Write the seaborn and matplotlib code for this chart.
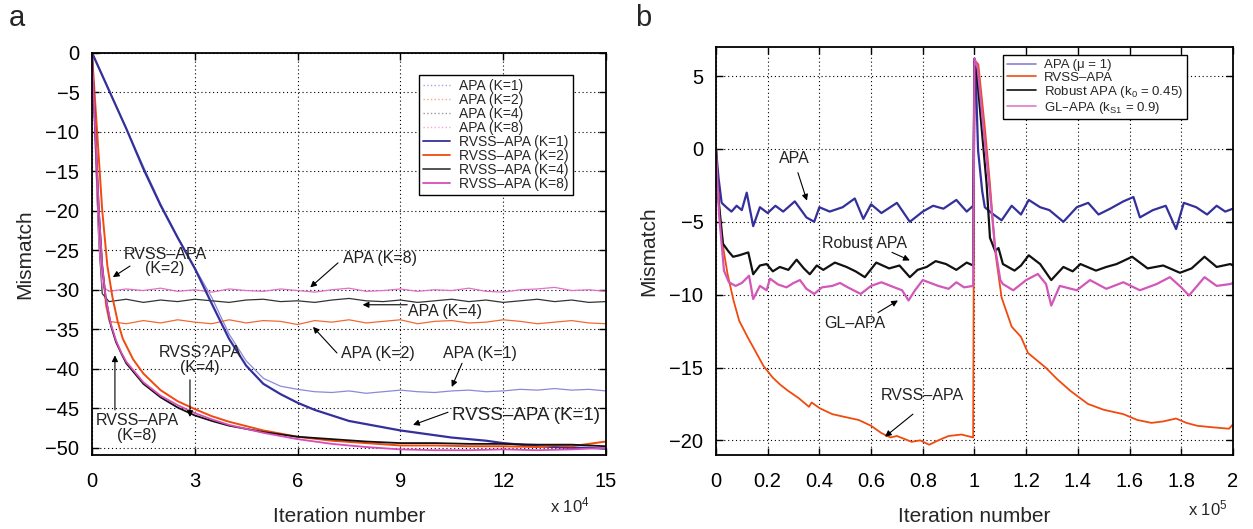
import numpy as np
import pandas as pd
import matplotlib
matplotlib.use("Agg")
import matplotlib.pyplot as plt
import seaborn as sns
from matplotlib.lines import Line2D
from matplotlib.ticker import FuncFormatter

# =================== Data, panel a (x in units of 1e4 iterations) ===================
flat_x = [0.5, 1.0, 1.5, 2.0, 2.5, 3.0, 3.5, 4.0, 4.5, 5.0, 5.5, 6.0, 6.5, 7.0, 7.5,
          8.0, 8.5, 9.0, 9.5, 10.0, 10.5, 11.0, 11.5, 12.0, 12.5, 13.0, 13.5, 14.0, 14.5, 15.0]

apa_k8_x = [0, 0.1, 0.2, 0.3] + flat_x
apa_k8_y = [0, -12, -24, -29.6,
            -30.2, -29.9, -30.1, -29.8, -30.2, -30.0, -30.3, -29.9, -30.1, -30.2,
            -29.9, -30.1, -30.3, -30.0, -29.8, -30.2, -30.1, -29.9, -30.2, -30.0,
            -30.1, -29.8, -30.2, -30.3, -30.0, -29.9, -29.7, -30.1, -30.0, -30.2]

apa_k4_x = [0, 0.1, 0.2, 0.3] + flat_x
apa_k4_y = [0, -12, -24, -30.5,
            -31.5, -31.2, -31.6, -31.3, -31.5, -31.2, -31.4, -31.6, -31.3, -31.2,
            -31.5, -31.4, -31.6, -31.3, -31.1, -31.4, -31.5, -31.3, -31.6, -31.4,
            -31.2, -31.5, -31.3, -31.6, -31.4, -31.2, -31.5, -31.3, -31.6, -31.5]

apa_k2_x = [0, 0.1, 0.2, 0.3, 0.4] + flat_x
apa_k2_y = [0, -10, -20, -27, -32,
            -34.0, -34.3, -33.9, -34.2, -33.8, -34.1, -34.3, -33.8, -34.2, -33.9,
            -34.0, -34.4, -33.9, -34.1, -33.8, -34.2, -34.0, -33.8, -34.3, -34.0,
            -33.9, -34.2, -34.1, -33.8, -34.0, -34.3, -34.1, -33.9, -34.2, -34.3]

apa_k1_x = [0, 0.5, 1, 1.5, 2, 2.5, 3, 3.5, 4, 4.5, 5, 5.5,
            6, 6.5, 7, 7.5, 8, 8.5, 9, 9.5, 10, 10.5, 11, 11.5, 12, 12.5, 13, 13.5, 14, 14.5, 15]
apa_k1_y = [0, -4.8, -9.6, -14.4, -19.1, -23.3, -27.2, -31.0, -35.6, -39.0, -41.2, -42.2,
            -42.6, -42.9, -43.0, -42.8, -43.1, -42.9, -42.7, -42.9, -43.0, -42.8, -42.7,
            -42.9, -42.8, -42.6, -42.7, -42.5, -42.7, -42.6, -42.8]

rvss_k1_x = [0, 0.5, 1, 1.5, 2, 2.5, 3, 3.5, 4, 4.5, 5, 5.5, 6, 6.5, 7, 7.5, 8,
             8.5, 9, 9.5, 10, 10.5, 11, 11.5, 12, 12.5, 13, 13.5, 14, 14.5, 15]
rvss_k1_y = [0, -4.8, -9.6, -14.7, -19.3, -23.4, -27.3, -31.8, -36.2, -39.6, -41.9, -43.2,
             -44.3, -45.2, -45.9, -46.6, -47.0, -47.4, -47.8, -48.1, -48.4, -48.7, -48.9,
             -49.1, -49.4, -49.6, -49.8, -49.9, -50.0, -50.0, -50.1]

rvss_k2_x = [0, 0.15, 0.3, 0.45, 0.6, 0.75, 0.9, 1.2, 1.5, 2, 2.5, 3, 3.5, 4, 5, 6, 7,
             8, 9, 10, 11, 12, 13, 13.5, 14, 14.5, 15]
rvss_k2_y = [0, -10, -20, -27, -31, -34, -36.2, -38.8, -40.6, -42.7, -44.1, -45.1, -46.0,
             -46.7, -47.8, -48.6, -49.1, -49.4, -49.7, -49.7, -49.8, -49.8, -49.9, -49.7,
             -49.8, -49.5, -49.2]

rvss_k48_x = [0, 0.1, 0.2, 0.3, 0.4, 0.55, 0.7, 0.85, 1.0, 1.5, 2, 2.5, 3, 3.5, 4, 5, 6,
              7, 8, 9, 10, 11, 12, 13, 14, 15]
rvss_k4_y = [0, -10, -20, -27, -31, -34.5, -36.6, -38.0, -39.3, -41.9, -43.6, -44.9, -45.9,
             -46.6, -47.2, -48.0, -48.6, -48.9, -49.2, -49.4, -49.4, -49.5, -49.5, -49.6,
             -49.6, -49.8]
rvss_k8_y = [0, -10, -20, -27, -31, -34.3, -36.4, -37.9, -39.1, -41.7, -43.4, -44.6, -45.6,
             -46.4, -47.1, -48.1, -48.9, -49.5, -49.9, -50.2, -50.3, -50.3, -50.2, -50.3,
             -50.2, -50.0]

legend_a = ["APA (K=1)", "APA (K=2)", "APA (K=4)", "APA (K=8)",
            "RVSS\u2013APA (K=1)", "RVSS\u2013APA (K=2)", "RVSS\u2013APA (K=4)", "RVSS\u2013APA (K=8)"]

# =================== Data, panel b (x in units of 1e5 iterations) ===================
b_apa_x = [0, 0.01, 0.022, 0.04, 0.06, 0.08, 0.1, 0.119, 0.144, 0.17,
           0.2, 0.23, 0.26, 0.305, 0.35, 0.38, 0.4, 0.44, 0.49, 0.537,
           0.57, 0.6, 0.64, 0.7, 0.75, 0.8, 0.84, 0.88, 0.93, 0.97, 0.995,
           1.0, 1.005, 1.014, 1.03, 1.04, 1.066, 1.105, 1.144, 1.18, 1.21,
           1.254, 1.29, 1.344, 1.396, 1.44, 1.48, 1.525, 1.576, 1.615, 1.64,
           1.69, 1.74, 1.78, 1.81, 1.858, 1.9, 1.937, 1.97, 2.0]
b_apa_y = [0, -2.0, -3.7, -4.0, -4.3, -3.9, -4.2, -3.0, -5.3, -4.0,
           -4.4, -3.9, -4.3, -3.6, -4.7, -5.0, -4.0, -4.3, -4.0, -3.4,
           -4.8, -3.8, -4.4, -3.7, -5.0, -4.3, -3.9, -4.1, -3.5, -4.3, -3.9,
           6.2, 5.0, -0.1, -2.9, -4.0, -4.4, -4.9, -3.9, -4.5, -3.5,
           -4.0, -4.2, -5.0, -4.0, -3.7, -4.5, -4.1, -3.6, -3.3, -4.7,
           -4.2, -3.9, -5.5, -3.7, -4.0, -4.5, -3.9, -4.3, -4.1]

b_rob_x = [0, 0.01, 0.027, 0.047, 0.066, 0.09, 0.125, 0.144, 0.17, 0.196,
           0.22, 0.247, 0.28, 0.312, 0.34, 0.363, 0.39, 0.415, 0.46, 0.505,
           0.54, 0.576, 0.62, 0.67, 0.71, 0.75, 0.78, 0.815, 0.85, 0.89,
           0.93, 0.97, 0.995,
           1.0, 1.01, 1.047, 1.06, 1.08, 1.093, 1.11, 1.155, 1.18, 1.21,
           1.254, 1.297, 1.344, 1.38, 1.41, 1.47, 1.51, 1.55, 1.61, 1.67,
           1.73, 1.795, 1.84, 1.89, 1.937, 1.99, 2.0]
b_rob_y = [0, -3.5, -6.5, -7.0, -7.4, -7.3, -7.1, -8.6, -8.0, -7.9,
           -8.4, -8.1, -8.3, -7.6, -8.2, -8.6, -8.0, -8.3, -7.8, -8.1,
           -8.4, -8.8, -7.8, -8.2, -8.0, -8.8, -8.3, -8.1, -7.7, -7.9,
           -8.3, -7.8, -8.0,
           6.0, 5.0, -2.4, -6.1, -7.0, -6.8, -7.9, -8.35, -8.0, -7.3,
           -7.9, -9.0, -8.1, -8.4, -7.9, -8.35, -8.1, -7.9, -7.4, -8.2,
           -8.0, -8.5, -8.2, -7.4, -8.1, -7.9, -8.0]

b_gl_x = [0, 0.012, 0.031, 0.05, 0.076, 0.1, 0.128, 0.144, 0.17, 0.196,
          0.209, 0.24, 0.273, 0.3, 0.325, 0.35, 0.38, 0.41, 0.45, 0.48,
          0.51, 0.56, 0.6, 0.64, 0.69, 0.72, 0.745, 0.77, 0.8, 0.86,
          0.9, 0.93, 0.96, 0.995,
          1.0, 1.012, 1.04, 1.06, 1.08, 1.10, 1.11, 1.15, 1.2, 1.245,
          1.277, 1.297, 1.33, 1.396, 1.447, 1.51, 1.576, 1.64, 1.705, 1.756,
          1.8, 1.83, 1.89, 1.937, 1.99, 2.0]
b_gl_y = [0, -4.5, -8.35, -9.15, -9.4, -9.2, -8.7, -10.3, -9.4, -9.7,
          -8.9, -9.3, -9.5, -9.2, -9.0, -9.6, -9.95, -9.5, -9.4, -9.2,
          -9.5, -9.95, -9.4, -9.15, -9.5, -9.7, -10.4, -9.7, -9.0, -9.4,
          -9.6, -9.15, -9.5, -9.4,
          6.2, 5.6, 0.5, -3.0, -6.8, -9.0, -9.27, -9.7, -9.0, -8.58,
          -9.27, -10.75, -9.4, -9.7, -9.0, -9.6, -9.15, -9.7, -9.27, -8.8,
          -9.5, -10.06, -8.8, -9.4, -9.27, -9.2]

b_rvss_x = [0, 0.015, 0.03, 0.045, 0.068, 0.09, 0.122, 0.15, 0.184, 0.22,
            0.25, 0.279, 0.32, 0.36, 0.37, 0.402, 0.45, 0.5, 0.552, 0.6,
            0.64, 0.675, 0.7, 0.757, 0.79, 0.825, 0.86, 0.9, 0.95, 0.995,
            1.0, 1.015, 1.04, 1.06, 1.08, 1.105, 1.144, 1.18, 1.207, 1.275,
            1.32, 1.371, 1.439, 1.5, 1.576, 1.63, 1.685, 1.73, 1.78, 1.82,
            1.862, 1.92, 1.985, 2.0]
b_rvss_y = [0, -4.7, -7.0, -8.6, -10.4, -11.8, -12.9, -13.8, -14.9, -15.7,
            -16.2, -16.6, -17.1, -17.7, -17.4, -17.8, -18.2, -18.4, -18.6, -19.0,
            -19.5, -19.8, -19.7, -20.1, -20.0, -20.3, -20.0, -19.7, -19.6, -19.8,
            6.1, 5.8, 1.5, -2.4, -7.0, -10.2, -12.2, -12.9, -14.0, -15.0,
            -15.8, -16.6, -17.5, -17.9, -18.2, -18.6, -18.8, -18.7, -18.5, -18.8,
            -19.0, -19.1, -19.2, -18.9]

legend_b = ["APA (\u03bc = 1)", "RVSS\u2013APA", "Robust APA (k$_0$ = 0.45)",
            "GL\u2013APA (k$_{S1}$ = 0.9)"]

# =================== Style ===================
sns.set_theme(style="ticks")
plt.rcParams["font.family"] = ["Liberation Sans", "DejaVu Sans"]
plt.rcParams["mathtext.default"] = "regular"

C_BLUE = "#33309c"
C_ORANGE = "#f04a0e"
C_BLACK = "#111111"
C_MAGENTA = "#d84cb8"


def line(ax, x, y, color, lw, ls="-"):
    sns.lineplot(x=x, y=y, ax=ax, color=color, linewidth=lw, linestyle=ls,
                 sort=False, estimator=None, legend=False)


def style_axes(ax):
    ax.grid(True, color="black", linestyle=(0, (1, 2.5)), linewidth=0.8)
    for s in ax.spines.values():
        s.set_color("black")
        s.set_linewidth(1.3)
    ax.tick_params(direction="in", top=True, right=True, length=5, width=1,
                   labelsize=14.5, colors="black")
    ax.tick_params(axis="x", pad=12)
    ax.tick_params(axis="y", pad=9)


def note(ax, text, pos, tail, head, size=11.5):
    ax.text(pos[0], pos[1], text, ha="center", va="center", fontsize=size,
            linespacing=0.95, color="#222222")
    ax.annotate("", xy=head, xytext=tail,
                arrowprops=dict(arrowstyle="-|>", color="black", lw=0.8,
                                mutation_scale=9, shrinkA=0, shrinkB=0))


fig = plt.figure(figsize=(12.53, 5.29), dpi=100)
ax_a = fig.add_axes([0.0734, 0.140, 0.4102, 0.7605])
ax_b = fig.add_axes([0.5714, 0.140, 0.4126, 0.7713])

# =================== Panel a ===================
line(ax_a, apa_k1_x, apa_k1_y, "#8c88dc", 0.9)
line(ax_a, apa_k2_x, apa_k2_y, "#f26a36", 0.9)
line(ax_a, apa_k4_x, apa_k4_y, "#333333", 0.9)
line(ax_a, apa_k8_x, apa_k8_y, "#e070c8", 0.9)
line(ax_a, rvss_k1_x, rvss_k1_y, C_BLUE, 1.6)
line(ax_a, rvss_k2_x, rvss_k2_y, C_ORANGE, 1.4)
line(ax_a, rvss_k48_x, rvss_k4_y, C_BLACK, 1.3)
line(ax_a, rvss_k48_x, rvss_k8_y, C_MAGENTA, 1.3)

ax_a.set_xlim(0, 15)
ax_a.set_ylim(-50.9, 0)
ax_a.set_xticks([0, 3, 6, 9, 12, 15])
ax_a.set_yticks(list(range(0, -51, -5)))
style_axes(ax_a)
ax_a.set_xlabel("Iteration number", fontsize=15, labelpad=12)
ax_a.set_ylabel("Mismatch", fontsize=15, labelpad=8)

handles_a = [Line2D([], [], color=c, lw=1, ls=":") for c in
             ["#a8a4e4", "#f4a888", "#9a9a9a", "#f0a8dc"]]
handles_a += [Line2D([], [], color=c, lw=1.3) for c in
              [C_BLUE, C_ORANGE, "#444444", C_MAGENTA]]
leg = ax_a.legend(handles_a, legend_a, loc="upper right", bbox_to_anchor=(0.936, 0.945),
                  fontsize=10, frameon=True, fancybox=False, edgecolor="black",
                  framealpha=1, borderpad=0.3, labelspacing=0.0, handlelength=1.9,
                  handletextpad=0.7, borderaxespad=0)
leg.get_frame().set_linewidth(1.0)

note(ax_a, "RVSS\u2013APA\n(K=2)", (2.13, -26.4), (1.11, -27.0), (0.61, -28.4))
note(ax_a, "APA (K=8)", (8.41, -26.1), (7.18, -26.6), (6.37, -29.7))
note(ax_a, "APA (K=4)", (10.31, -32.7), (9.2, -31.9), (7.9, -31.9))
note(ax_a, "APA (K=2)", (8.35, -38.1), (7.15, -38.0), (6.45, -34.7))
note(ax_a, "APA (K=1)", (11.33, -38.1), (10.8, -39.3), (10.5, -42.3))
note(ax_a, "RVSS\u2013APA (K=1)", (12.67, -45.9), (10.39, -45.5), (9.37, -47.1), size=13.5)
note(ax_a, "RVSS?APA\n(K=4)", (3.15, -38.9), (2.86, -41.4), (2.86, -46.1))
note(ax_a, "RVSS\u2013APA\n(K=8)", (1.31, -47.5), (0.67, -45.2), (0.67, -38.3))

# =================== Panel b ===================
line(ax_b, b_rvss_x, b_rvss_y, C_ORANGE, 1.3)
line(ax_b, b_apa_x, b_apa_y, C_BLUE, 1.6)
line(ax_b, b_rob_x, b_rob_y, C_BLACK, 1.6)
line(ax_b, b_gl_x, b_gl_y, "#d257b8", 1.6)

ax_b.set_xlim(0, 2)
ax_b.set_ylim(-21, 7)
ax_b.set_xticks([0, 0.2, 0.4, 0.6, 0.8, 1.0, 1.2, 1.4, 1.6, 1.8, 2.0])
ax_b.set_yticks([5, 0, -5, -10, -15, -20])
ax_b.xaxis.set_major_formatter(FuncFormatter(lambda v, p: f"{v:g}"))
style_axes(ax_b)
ax_b.set_xlabel("Iteration number", fontsize=15, labelpad=12)
ax_b.set_ylabel("Mismatch", fontsize=15, labelpad=8)

handles_b = [Line2D([], [], color=c, lw=1.2) for c in
             ["#8a80d4", C_ORANGE, C_BLACK, "#e078c8"]]
leg = ax_b.legend(handles_b, legend_b, loc="upper left", bbox_to_anchor=(0.555, 0.98),
                  fontsize=9.5, frameon=True, fancybox=False, edgecolor="black",
                  framealpha=1, borderpad=0.3, labelspacing=0.0, handlelength=2.2,
                  handletextpad=0.6, borderaxespad=0)
leg.get_frame().set_linewidth(1.0)

note(ax_b, "APA", (0.302, -0.67), (0.317, -1.63), (0.352, -3.55))
note(ax_b, "Robust APA", (0.576, -6.5), (0.681, -7.1), (0.75, -7.65))
note(ax_b, "GL\u2013APA", (0.538, -12.0), (0.627, -11.23), (0.704, -10.4))
note(ax_b, "RVSS\u2013APA", (0.80, -16.9), (0.762, -18.2), (0.654, -19.75))

# =================== Figure texts ===================
fig.text(570 / 1253, 1 - 505 / 529, "x 10$^4$", ha="center", va="center", fontsize=12)
fig.text(1208 / 1253, 1 - 508 / 529, "x 10$^5$", ha="center", va="center", fontsize=12)
fig.text(17 / 1253, 1 - 18 / 529, "a", ha="center", va="center", fontsize=21)
fig.text(643 / 1253, 1 - 18 / 529, "b", ha="center", va="center", fontsize=21)

fig.savefig("out.png", dpi=100)
